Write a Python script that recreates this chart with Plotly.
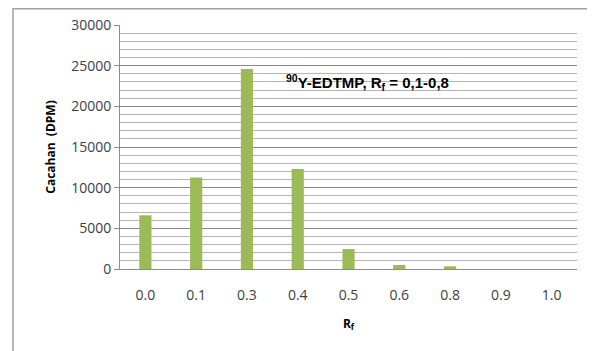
import plotly.graph_objects as go

categories = ["0.0", "0.1", "0.3", "0.4", "0.5", "0.6", "0.8", "0.9", "1.0"]
counts = [6600, 11250, 24600, 12300, 2450, 500, 330, 0, 0]
y_ticks = [0, 5000, 10000, 15000, 20000, 25000, 30000]

W, H = 595, 351
OFF = 8  # page body margin
L, R, T, B = 120 - OFF, 18 + OFF, 25 - OFF, 82 + OFF

fig = go.Figure(go.Bar(x=categories, y=counts, marker=dict(color="#9BBB59", line=dict(width=0)), width=0.24))

fig.update_layout(
    width=W, height=H,
    margin=dict(l=L, r=R, t=T, b=B, autoexpand=False),
    paper_bgcolor="white", plot_bgcolor="white",
    showlegend=False,
    font=dict(family="Open Sans, Liberation Sans, Arial, sans-serif", color="#333333"),
)
fig.update_yaxes(
    range=[0, 30000], tickvals=y_ticks, ticktext=[str(v) for v in y_ticks],
    showgrid=True, gridcolor="#888888", gridwidth=1,
    minor=dict(dtick=1000, showgrid=True, gridcolor="#B5B5B5", gridwidth=1),
    showline=True, linecolor="#8C8C8C", ticks="outside", ticklen=5, tickcolor="#8C8C8C",
    tickfont=dict(size=14, color="#404040"), zeroline=False, automargin=False,
    title=dict(text="<b>Cacahan  (DPM)</b>", font=dict(size=12, color="#000000"), standoff=12),
)
fig.update_xaxes(
    showline=True, linecolor="#8C8C8C", ticks="", showgrid=False, automargin=False,
    tickfont=dict(size=14, color="#404040"), ticklabelstandoff=13,
    title=dict(text="<b>R<sub>f</sub></b>", font=dict(size=12, color="#000000"), standoff=16),
)
fig.add_annotation(
    x=2.72, y=22870, xref="x", yref="y", xanchor="left", yanchor="middle",
    text="<b><sup>90</sup>Y-EDTMP, R<sub>f</sub> = 0,1-0,8</b>", showarrow=False,
    font=dict(size=15, color="#000000", family="Liberation Sans, Arial, sans-serif"),
)
pw = W - L - R
ph = H - T - B
bx0, bx1 = 13 - OFF, 593 - OFF
by0, by1 = 0.8, 360
fig.add_shape(type="rect", xref="paper", yref="paper",
              x0=(bx0 - L) / pw, x1=(bx1 - L) / pw,
              y0=(H - by1 - B) / ph, y1=(H - by0 - B) / ph,
              line=dict(color="#A0A0A0", width=1.5), fillcolor="rgba(0,0,0,0)", layer="below")
fig.write_html("out.html")
